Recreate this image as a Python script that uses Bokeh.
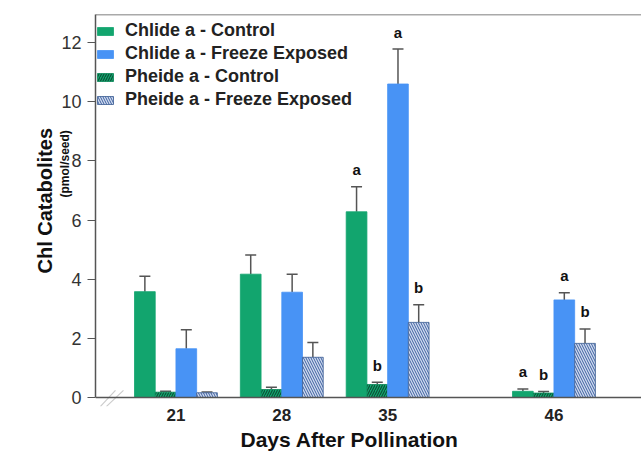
import numpy as np
from bokeh.plotting import figure
from bokeh.models import (ColumnDataSource, Range1d, FixedTicker, Whisker, TeeHead,
                          Legend, LegendItem, Span, PolyAnnotation, Title)
from bokeh.core.properties import value
from bokeh.embed import file_html
from bokeh.resources import INLINE

# ---- data ----
days = [21, 28, 35, 46]
series_names = ["Chlide a - Control", "Pheide a - Control",
                "Chlide a - Freeze Exposed", "Pheide a - Freeze Exposed"]
chlide_control = [3.58, 4.17, 6.28, 0.21]
chlide_control_err = [0.52, 0.65, 0.85, 0.08]
pheide_control = [0.18, 0.27, 0.44, 0.15]
pheide_control_err = [0.03, 0.08, 0.08, 0.05]
chlide_freeze = [1.65, 3.56, 10.6, 3.30]
chlide_freeze_err = [0.64, 0.61, 1.18, 0.24]
pheide_freeze = [0.16, 1.36, 2.54, 1.83]
pheide_freeze_err = [0.03, 0.50, 0.60, 0.49]
letters_chlide_control = ["", "", "a", "a"]
letters_pheide_control = ["", "", "b", "b"]
letters_chlide_freeze = ["", "", "a", "a"]
letters_pheide_freeze = ["", "", "b", "b"]
y_ticks = [0, 2, 4, 6, 8, 10, 12]

FONT = "Liberation Sans"
X0, X1 = 15.68, 51.79
Y0, Y1 = -0.304, 12.95
BW = 1.37
AX = "#555555"

p = figure(width=641, height=453, output_backend="svg", toolbar_location=None,
           x_range=Range1d(X0, X1), y_range=Range1d(Y0, Y1),
           min_border_left=95, min_border_right=0, min_border_top=14, min_border_bottom=47)
p.outline_line_color = None
p.grid.grid_line_color = None
p.background_fill_color = "white"

styles = [
    dict(fill_color="#12a56e", line_color="#12a56e", hatch_pattern=None),
    dict(fill_color="#12a56e", line_color="#0e8a5c", hatch_pattern="/",
         hatch_color="#0a4f35", hatch_scale=5, hatch_weight=1.1),
    dict(fill_color="#4893f5", line_color="#4893f5", hatch_pattern=None),
    dict(fill_color="#d0dbef", line_color="#3a5c92", hatch_pattern="\\",
         hatch_color="#3d60a0", hatch_scale=5, hatch_weight=1.0),
]
vals = [chlide_control, pheide_control, chlide_freeze, pheide_freeze]
errs = [chlide_control_err, pheide_control_err, chlide_freeze_err, pheide_freeze_err]
lets = [letters_chlide_control, letters_pheide_control, letters_chlide_freeze, letters_pheide_freeze]

renderers = []
for i in range(4):
    xs = [d + (i - 1.5) * BW for d in days]
    tops = [v + e for v, e in zip(vals[i], errs[i])]
    src = ColumnDataSource(dict(x=xs, v=vals[i], top=tops, lab=lets[i]))
    st = styles[i]
    kw = dict(fill_color=st["fill_color"], line_color=st["line_color"], line_width=0.8)
    if st["hatch_pattern"]:
        kw.update(hatch_pattern=st["hatch_pattern"], hatch_color=st["hatch_color"],
                  hatch_scale=st["hatch_scale"], hatch_weight=st["hatch_weight"])
    r = p.vbar(x="x", top="v", bottom=0, width=BW, source=src, **kw)
    renderers.append(r)
    w = Whisker(base="x", lower="v", upper="top", source=src, dimension="height",
                line_color=AX, line_width=1.5, lower_head=None,
                upper_head=TeeHead(size=11, line_color=AX, line_width=1.5))
    p.add_layout(w)
    p.text(x="x", y="top", text="lab", source=src, text_align="center",
           text_baseline="alphabetic", y_offset=-17, text_font=value(FONT),
           text_font_style="bold", text_font_size="15px", text_color="#111111")

# y axis
p.yaxis.ticker = FixedTicker(ticks=y_ticks)
p.yaxis.bounds = (0, Y1)
p.yaxis.minor_tick_line_color = None
p.yaxis.major_tick_out = 8
p.yaxis.major_tick_in = 0
p.yaxis.major_label_standoff = 6
p.yaxis.major_label_text_font = FONT
p.yaxis.major_label_text_font_size = "18px"
p.yaxis.major_label_text_color = "#333333"
p.yaxis.axis_line_color = AX
p.yaxis.axis_line_width = 1.5
p.yaxis.major_tick_line_color = AX
p.yaxis.major_tick_line_width = 1.2

# x axis (line drawn at y=0 by a span so the break marks can cross it)
p.xaxis.ticker = FixedTicker(ticks=days)
p.xaxis.minor_tick_line_color = None
p.xaxis.major_tick_line_color = None
p.xaxis.axis_line_color = None
p.xaxis.major_label_standoff = -4
p.xaxis.major_label_text_font = FONT
p.xaxis.major_label_text_font_style = "bold"
p.xaxis.major_label_text_font_size = "17px"
p.xaxis.major_label_text_color = "#222222"
p.add_layout(Span(location=0, dimension="width", line_color=AX, line_width=1.5))

# top frame line
p.add_layout(Span(location=Y1, dimension="width", line_color=AX, line_width=1.5))

# axis break marks
for xa, xb in [(16.01, 17.0), (16.41, 17.53)]:
    p.add_layout(PolyAnnotation(xs=[xa, xb, xa], ys=[-0.30, 0.24, -0.30],
                                fill_alpha=0, line_color=AX, line_width=1.2))

# axis titles
p.add_layout(Title(text="Days After Pollination", align="left", offset=145, standoff=4,
                   text_font=FONT, text_font_style="bold", text_font_size="21px",
                   text_color="#111111"), "below")
p.add_layout(Title(text="(pmol/seed)", align="left", offset=209, standoff=-26,
                   text_font=FONT, text_font_style="bold", text_font_size="12px",
                   text_color="#111111"), "left")
p.add_layout(Title(text="Chl Catabolites", align="left", offset=133, standoff=6,
                   text_font=FONT, text_font_style="bold", text_font_size="20px",
                   text_color="#111111"), "left")

# legend (order as in reference)
order = [0, 2, 1, 3]
legend = Legend(items=[LegendItem(label=series_names[i], renderers=[renderers[i]]) for i in order],
                location=(0, 296), background_fill_alpha=0, border_line_color=None,
                glyph_width=20, glyph_height=10, label_standoff=10, spacing=2,
                label_height=21, padding=4, margin=0,
                label_text_font=FONT, label_text_font_style="bold",
                label_text_font_size="18px", label_text_color="#222222")
p.add_layout(legend)

open("out.html", "w").write(file_html(p, INLINE))
